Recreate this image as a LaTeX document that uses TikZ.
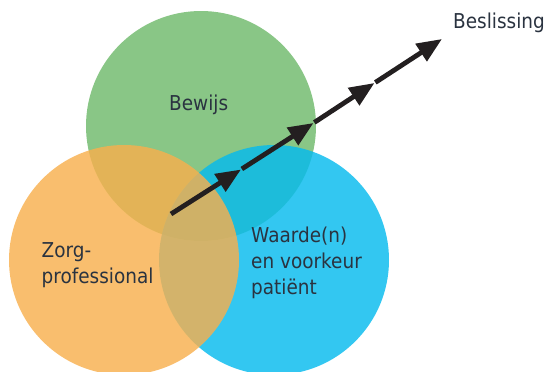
\documentclass[tikz,border=0pt]{standalone}
\usepackage{fontspec}
\setmainfont{DejaVu Sans}[FakeStretch=0.9]
\usetikzlibrary{positioning,arrows.meta}
\definecolor{bewijsgreen}{RGB}{111,185,107}
\definecolor{zorgorange}{RGB}{248,176,78}
\definecolor{patientblue}{RGB}{6,187,238}
\definecolor{textslate}{RGB}{42,51,64}
\definecolor{arrowblack}{RGB}{35,31,32}
\tikzset{
  venn/.style={circle, minimum size=230pt, inner sep=0pt, fill opacity=0.82},
  venntext/.style={anchor=base west, inner sep=0pt, align=left, text=textslate},
  stage/.style={line width=4.8pt, draw=arrowblack, -{Triangle[length=25pt,width=20pt]}},
}

\begin{document}
\begin{tikzpicture}[x=1pt, y=-1pt, font=\fontsize{20.5}{26}\selectfont]
\useasboundingbox (0,0) rectangle (547,372);

% circles
\node (bewijs) [venn, fill=bewijsgreen] at (201,126) {};
\node (patient)[venn, fill=patientblue] at (274,260) {};
\node (zorg)   [venn, fill=zorgorange]  at (124,260) {};

% texts (base = last line)
\node (tbewijs)  [venntext] at (169,110) {Bewijs};
\node (tzorg)    [venntext] at (41.5,283) {Zorg-\\professional};
\node (tpatient) [venntext] at (251,294) {Waarde(n)\\en voorkeur\\patiënt};
\node (tbesl)    [venntext] at (453,28.5) {Beslissing};

% decision path
\coordinate (s0) at (171,214);
\coordinate (s1) at (241,169.5);
\coordinate (s2) at (313.5,123);
\coordinate (s3) at (374.5,83);
\coordinate (s4) at (442,39);
\draw[stage] (s0) -- (s1);
\draw[stage, shorten <=1pt] (s1) -- (s2);
\draw[stage, shorten <=1pt] (s2) -- (s3);
\draw[stage, shorten <=1pt] (s3) -- (s4);
\end{tikzpicture}
\end{document}
